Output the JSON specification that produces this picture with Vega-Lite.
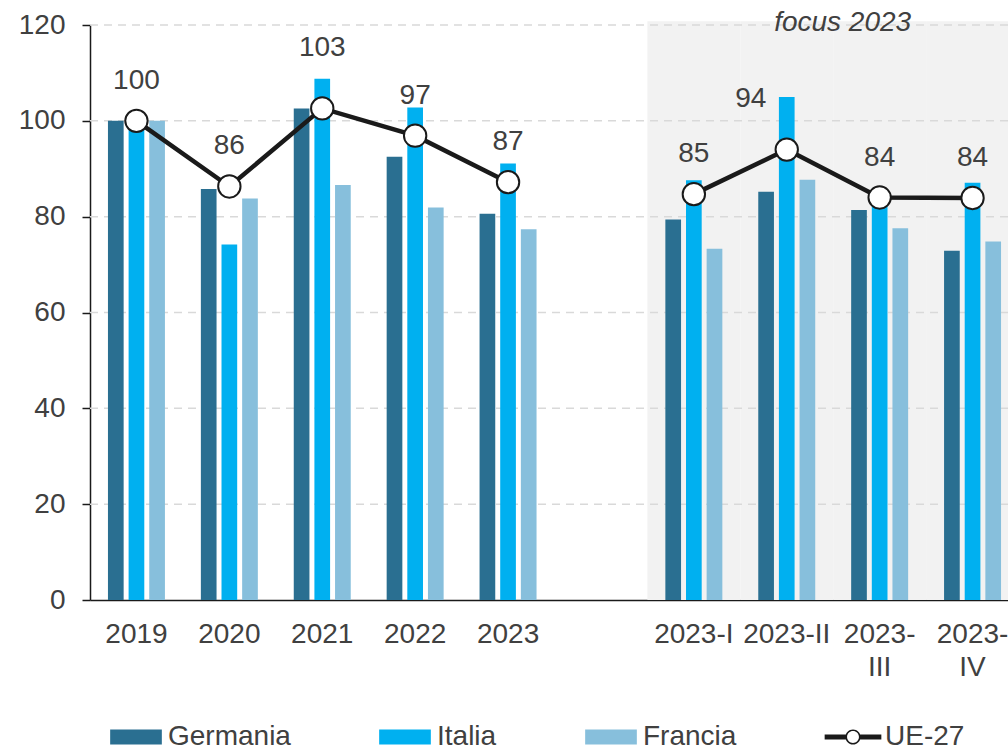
{
  "$schema": "https://vega.github.io/schema/vega-lite/v6.json",
  "width": 918,
  "height": 575,
  "autosize": {"type": "none"},
  "padding": {"left": 90, "top": 25, "right": 0, "bottom": 150},
  "background": "white",
  "config": {
    "font": "Liberation Sans",
    "view": {"stroke": null},
    "axisX": {"domainColor": "#1a1a1a", "domainWidth": 1.5, "ticks": false, "grid": false, "labelFontSize": 28, "labelColor": "#404040", "labelPadding": 20, "labelAngle": 0, "labelOverlap": false, "labelLineHeight": 33},
    "axisY": {"domainColor": "#1a1a1a", "domainWidth": 1.5, "tickColor": "#1a1a1a", "tickWidth": 1.5, "tickSize": 8, "grid": false, "labelFontSize": 28, "labelColor": "#404040", "labelPadding": 17}
  },
  "datasets": {
    "main": [
      {"cat": "2019", "series": "Germania", "value": 100, "period": "A"},
      {"cat": "2019", "series": "Italia", "value": 99.6, "period": "A"},
      {"cat": "2019", "series": "Francia", "value": 100, "period": "A"},
      {"cat": "2019", "series": "UE-27", "value": 100, "period": "A"},
      {"cat": "2020", "series": "Germania", "value": 85.8, "period": "A"},
      {"cat": "2020", "series": "Italia", "value": 74.2, "period": "A"},
      {"cat": "2020", "series": "Francia", "value": 83.8, "period": "A"},
      {"cat": "2020", "series": "UE-27", "value": 86.3, "period": "A"},
      {"cat": "2021", "series": "Germania", "value": 102.6, "period": "A"},
      {"cat": "2021", "series": "Italia", "value": 108.8, "period": "A"},
      {"cat": "2021", "series": "Francia", "value": 86.6, "period": "A"},
      {"cat": "2021", "series": "UE-27", "value": 102.6, "period": "A"},
      {"cat": "2022", "series": "Germania", "value": 92.5, "period": "A"},
      {"cat": "2022", "series": "Italia", "value": 102.8, "period": "A"},
      {"cat": "2022", "series": "Francia", "value": 81.9, "period": "A"},
      {"cat": "2022", "series": "UE-27", "value": 96.9, "period": "A"},
      {"cat": "2023", "series": "Germania", "value": 80.6, "period": "A"},
      {"cat": "2023", "series": "Italia", "value": 91.1, "period": "A"},
      {"cat": "2023", "series": "Francia", "value": 77.4, "period": "A"},
      {"cat": "2023", "series": "UE-27", "value": 87.2, "period": "A"},
      {"cat": "2023-I", "series": "Germania", "value": 79.4, "period": "Q"},
      {"cat": "2023-I", "series": "Italia", "value": 87.6, "period": "Q"},
      {"cat": "2023-I", "series": "Francia", "value": 73.3, "period": "Q"},
      {"cat": "2023-I", "series": "UE-27", "value": 84.7, "period": "Q"},
      {"cat": "2023-II", "series": "Germania", "value": 85.2, "period": "Q"},
      {"cat": "2023-II", "series": "Italia", "value": 105.0, "period": "Q"},
      {"cat": "2023-II", "series": "Francia", "value": 87.7, "period": "Q"},
      {"cat": "2023-II", "series": "UE-27", "value": 94.0, "period": "Q"},
      {"cat": "2023-III", "series": "Germania", "value": 81.4, "period": "Q"},
      {"cat": "2023-III", "series": "Italia", "value": 83.8, "period": "Q"},
      {"cat": "2023-III", "series": "Francia", "value": 77.6, "period": "Q"},
      {"cat": "2023-III", "series": "UE-27", "value": 84.0, "period": "Q"},
      {"cat": "2023-IV", "series": "Germania", "value": 72.9, "period": "Q"},
      {"cat": "2023-IV", "series": "Italia", "value": 87.1, "period": "Q"},
      {"cat": "2023-IV", "series": "Francia", "value": 74.8, "period": "Q"},
      {"cat": "2023-IV", "series": "UE-27", "value": 83.9, "period": "Q"}
    ],
    "focus": [{"cat": "2023-I"}, {"cat": "2023-II"}, {"cat": "2023-III"}, {"cat": "2023-IV"}],
    "grid": [{"v": 20}, {"v": 40}, {"v": 60}, {"v": 80}, {"v": 100}, {"v": 120}]
  },
  "layer": [
    {
      "data": {"name": "focus"},
      "mark": {"type": "bar", "color": "#f2f2f2"},
      "encoding": {
        "x": {"field": "cat", "type": "nominal", "title": null,
          "scale": {"domain": ["2019", "2020", "2021", "2022", "2023", " ", "2023-I", "2023-II", "2023-III", "2023-IV"], "range": [0, 929], "paddingInner": 0, "paddingOuter": 0},
          "axis": {"labelExpr": "datum.value == '2023-III' ? ['2023-', 'III'] : datum.value == '2023-IV' ? ['2023-', 'IV'] : datum.value"}},
        "y": {"datum": 120.8, "type": "quantitative", "title": null,
          "scale": {"domain": [0, 120], "nice": false},
          "axis": {"values": [0, 20, 40, 60, 80, 100, 120]}}
      }
    },
    {
      "data": {"name": "grid"},
      "mark": {"type": "rule", "stroke": "#d9d9d9", "strokeWidth": 1.5, "strokeDash": [8, 6]},
      "encoding": {
        "y": {"field": "v", "type": "quantitative", "title": null}
      }
    },
    {
      "data": {"name": "main"},
      "transform": [{"filter": "datum.series != 'UE-27'"}],
      "mark": {"type": "bar"},
      "encoding": {
        "x": {"field": "cat", "type": "nominal", "title": null},
        "xOffset": {"field": "series", "type": "nominal", "sort": ["Germania", "Italia", "Francia"], "scale": {"paddingInner": 0.24, "paddingOuter": 0.87}},
        "y": {"field": "value", "type": "quantitative", "title": null},
        "color": {"field": "series", "type": "nominal",
          "scale": {"domain": ["Germania", "Italia", "Francia", "UE-27"], "range": ["#2a6f91", "#00b0f0", "#87bfdc", "#1a1a1a"]},
          "legend": {
            "orient": "none", "legendX": 19, "legendY": 685, "direction": "horizontal", "title": null,
            "padding": 0, "labelFontSize": 28, "labelColor": "#404040", "labelOffset": 5,
            "symbolSize": 2916, "columnPadding": 87, "symbolStrokeWidth": 0,
            "encode": {
              "symbols": {
                "update": {
                  "shape": {"signal": "datum.value === 'UE-27' ? 'M-1.05,-0.09H-0.25V0.09H-1.05Z M0.25,-0.09H1.05V0.09H0.25Z M0.28,0A0.28,0.28,0,1,1,-0.28,0A0.28,0.28,0,1,1,0.28,0Z M0.22,0A0.22,0.22,0,1,0,-0.22,0A0.22,0.22,0,1,0,0.22,0Z' : 'M-0.957,-0.28H0.957V0.28H-0.957Z'"},
                  "fill": {"scale": "color", "field": "value"},
                  "stroke": {"value": "transparent"},
                  "strokeWidth": {"value": 0},
                  "opacity": {"value": 1}
                }
              }
            }
          }
        }
      }
    },
    {
      "data": {"name": "main"},
      "transform": [{"filter": "datum.series == 'UE-27'"}],
      "mark": {"type": "line", "strokeWidth": 4.5},
      "encoding": {
        "x": {"field": "cat", "type": "nominal", "title": null},
        "y": {"field": "value", "type": "quantitative", "title": null},
        "color": {"field": "series", "type": "nominal"},
        "detail": {"field": "period", "type": "nominal"}
      }
    },
    {
      "data": {"name": "main"},
      "transform": [{"filter": "datum.series == 'UE-27'"}],
      "mark": {"type": "point", "shape": "circle", "size": 500, "filled": true, "fill": "white", "stroke": "#1a1a1a", "strokeWidth": 2, "opacity": 1},
      "encoding": {
        "x": {"field": "cat", "type": "nominal", "title": null},
        "y": {"field": "value", "type": "quantitative", "title": null}
      }
    },
    {
      "data": {"name": "main"},
      "transform": [{"filter": "datum.series == 'UE-27' && datum.cat != '2021' && datum.cat != '2023-II'"}],
      "mark": {"type": "text", "dy": -40, "fontSize": 28, "color": "#404040", "baseline": "middle"},
      "encoding": {
        "x": {"field": "cat", "type": "nominal", "title": null},
        "y": {"field": "value", "type": "quantitative", "title": null},
        "text": {"field": "value", "type": "quantitative", "format": ".0f"}
      }
    },
    {
      "data": {"name": "main"},
      "transform": [{"filter": "datum.series == 'UE-27' && datum.cat == '2021'"}],
      "mark": {"type": "text", "dy": -60, "fontSize": 28, "color": "#404040", "baseline": "middle"},
      "encoding": {
        "x": {"field": "cat", "type": "nominal", "title": null},
        "y": {"field": "value", "type": "quantitative", "title": null},
        "text": {"field": "value", "type": "quantitative", "format": ".0f"}
      }
    },
    {
      "data": {"name": "main"},
      "transform": [{"filter": "datum.series == 'UE-27' && datum.cat == '2023-II'"}],
      "mark": {"type": "text", "dx": -36, "dy": -51, "fontSize": 28, "color": "#404040", "baseline": "middle"},
      "encoding": {
        "x": {"field": "cat", "type": "nominal", "title": null},
        "y": {"field": "value", "type": "quantitative", "title": null},
        "text": {"field": "value", "type": "quantitative", "format": ".0f"}
      }
    },
    {
      "data": {"values": [{"label": "focus 2023"}]},
      "mark": {"type": "text", "dx": -37, "fontSize": 28, "fontStyle": "italic", "color": "#404040", "baseline": "middle"},
      "encoding": {
        "x": {"datum": "2023-III", "type": "nominal", "title": null},
        "y": {"datum": 120.4, "type": "quantitative", "title": null},
        "text": {"field": "label", "type": "nominal"}
      }
    }
  ]
}
